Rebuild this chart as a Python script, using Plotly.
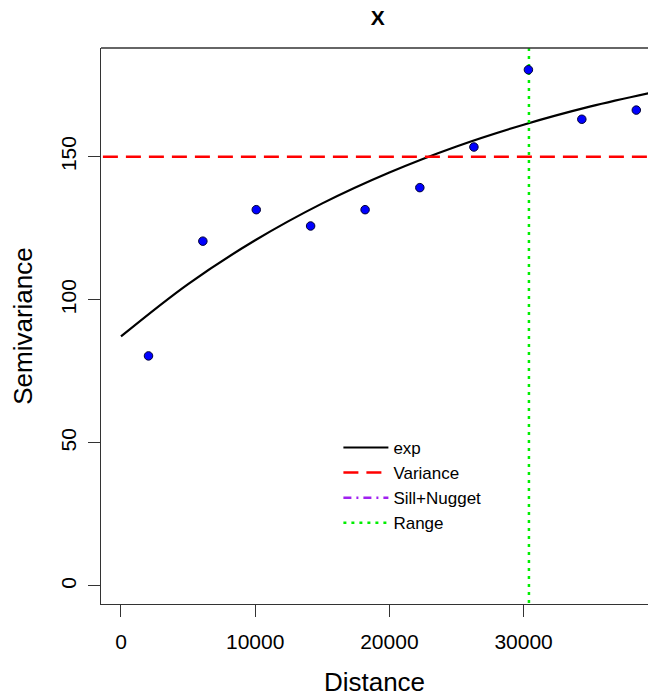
import plotly.graph_objects as go

dist = [2050, 6100, 10080, 14130, 18190, 22270, 26300, 30360, 34340, 38400]
semivar = [80.4, 120.5, 131.5, 125.8, 131.5, 139.2, 153.4, 180.4, 163.1, 166.3]

# Fitted exponential model curve
curve_x = [0, 5000, 10000, 15000, 20000, 25000, 30000, 35000, 39300]
curve_y = [87.2, 105.5, 120.8, 133.7, 144.5, 153.6, 161.2, 167.6, 172.2]

variance = 150.0
sill_nugget = 201.0
range_val = 30400

x_ticks = [0, 10000, 20000, 30000]
y_ticks = [0, 50, 100, 150]
x_lim = [-1490, 39272]
y_lim = [-6.3, 188.0]

FONT = "Liberation Sans, Arial, sans-serif"
AX = "#333333"

fig = go.Figure()

fig.add_trace(go.Scatter(x=curve_x, y=curve_y, mode="lines", name="exp",
                         line=dict(color="black", width=2.2, shape="spline")))
fig.add_trace(go.Scatter(x=[x_lim[0] - 5000, x_lim[1] + 5000], y=[variance, variance],
                         mode="lines", name="Variance",
                         line=dict(color="#ff0000", width=2.5, dash="15px,8px")))
fig.add_trace(go.Scatter(x=[x_lim[0] - 5000, x_lim[1] + 5000], y=[sill_nugget, sill_nugget],
                         mode="lines", name="Sill+Nugget",
                         line=dict(color="#a020f0", width=2.5, dash="8px,5px,2px,5px")))
fig.add_trace(go.Scatter(x=[range_val, range_val], y=[y_lim[0] - 50, y_lim[1] + 50],
                         mode="lines", name="Range",
                         line=dict(color="#00ee00", width=2.5, dash="3px,5px")))
fig.add_trace(go.Scatter(x=dist, y=semivar, mode="markers", showlegend=False,
                         marker=dict(color="#0000ff", size=8.5,
                                     line=dict(color="#000033", width=1))))

fig.update_layout(
    width=648, height=700,
    margin=dict(l=101, r=0, t=48, b=96),
    paper_bgcolor="white", plot_bgcolor="white",
    font=dict(family=FONT, color="black"),
    title=dict(text="<b>X</b>", x=0.506, xref="paper", xanchor="center",
               y=1 - 17.5 / 700, yref="container", yanchor="middle",
               font=dict(size=21, family=FONT)),
    showlegend=True,
    legend=dict(x=0.434, y=0.313, xanchor="left", yanchor="top",
                bgcolor="rgba(0,0,0,0)", borderwidth=0,
                font=dict(size=17, family=FONT), tracegroupgap=0,
                itemwidth=45),
)

fig.update_xaxes(range=x_lim, tickvals=x_ticks, ticktext=[str(v) for v in x_ticks],
                 showgrid=False, zeroline=False, showline=True, linecolor=AX,
                 linewidth=1.3, mirror=False, ticks="outside", ticklen=12,
                 tickcolor=AX, tickwidth=1.3,
                 tickfont=dict(size=21, family=FONT), ticklabelstandoff=7,
                 title=dict(text="Distance", font=dict(size=26, family=FONT), standoff=20))
fig.update_yaxes(range=y_lim, tickvals=y_ticks, ticktext=[str(v) for v in y_ticks],
                 showgrid=False, zeroline=False, showline=True, linecolor=AX,
                 linewidth=1.3, mirror=False, ticks="outside", ticklen=12,
                 tickcolor=AX, tickwidth=1.3, tickangle=-90,
                 tickfont=dict(size=21, family=FONT), ticklabelstandoff=3,
                 title=dict(text="Semivariance", font=dict(size=26, family=FONT), standoff=17))

# top border of the plot box
fig.add_shape(type="line", xref="paper", yref="paper", x0=0, x1=1, y0=1, y1=1,
              line=dict(color=AX, width=1.3))

fig.write_html("out.html")
